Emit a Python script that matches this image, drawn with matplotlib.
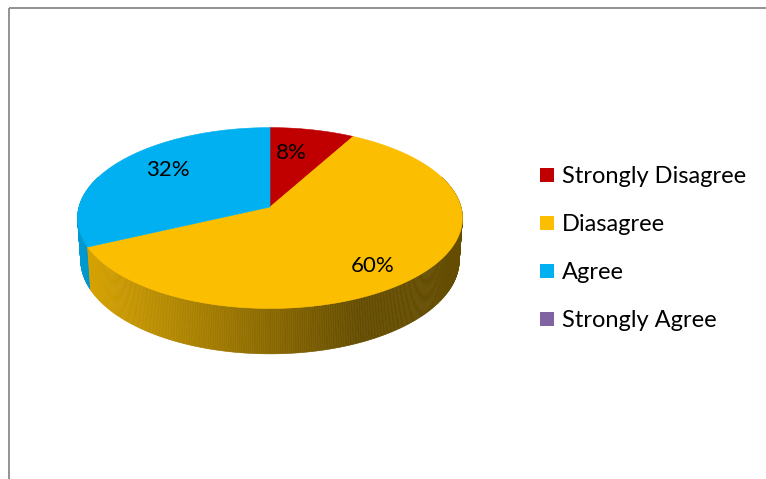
import numpy as np
import matplotlib
matplotlib.use("Agg")
import matplotlib.pyplot as plt
from matplotlib.patches import Polygon, Rectangle
from matplotlib.colors import to_rgb

# Survey responses (percent of respondents)
categories = ["Strongly Disagree", "Diasagree", "Agree", "Strongly Agree"]
shares = [8, 60, 32, 0]
colors = ["#C00000", "#FBBE00", "#00B0F0", "#8064A2"]

# Pixel positions for the percentage labels (None = no label)
label_xy = [(291, 153), (373, 266), (168, 170), None]

W, H = 766, 479
fig = plt.figure(figsize=(W / 100, H / 100), dpi=100)
ax = fig.add_axes([0, 0, 1, 1])
ax.set_xlim(0, W)
ax.set_ylim(H, 0)
ax.axis("off")

FONT = ["Lato", "DejaVu Sans"]
FS_LABEL = 16
FS_LEGEND = 17

# Perspective view of a flat cylinder (the 3-D pie)
CX, CY = 270, 207          # projected pie centre
S = 191                    # radius scale
ALPHA = np.radians(27.8)   # elevation of the view
DIST = 7.25                # camera distance (in radii)
THICK = 0.25               # pie thickness (in radii)


def project(theta_deg, r, w):
    t = np.radians(theta_deg)
    u = r * np.sin(t)
    v = r * np.cos(t)
    Y = v * np.sin(ALPHA) + w * np.cos(ALPHA)
    Z = DIST + v * np.cos(ALPHA) - w * np.sin(ALPHA)
    return CX + S * DIST * u / Z, CY - S * DIST * Y / Z


total = float(sum(shares))
bounds = np.concatenate([[0.0], np.cumsum(shares) / total * 360.0])


def slice_of(theta):
    return int(np.clip(np.searchsorted(bounds, theta, side="right") - 1, 0, len(shares) - 1))


def side_shade(px):
    return np.interp(px, [78, 360, 470], [0.87, 0.40, 0.40])


# side wall, back to front
step = 0.5
thetas = np.arange(0, 360, step)
quads = []
for t1 in thetas:
    t2 = t1 + step
    tm = t1 + step / 2
    if np.cos(np.radians(tm)) > 0.35:
        continue
    idx = slice_of(tm)
    if shares[idx] == 0:
        continue
    p1 = project(t1, 1, 0)
    p2 = project(t2, 1, 0)
    p3 = project(t2, 1, -THICK)
    p4 = project(t1, 1, -THICK)
    xm = (p1[0] + p2[0]) / 2
    f = side_shade(xm)
    c = tuple(np.array(to_rgb(colors[idx])) * f)
    quads.append((np.cos(np.radians(tm)), [p1, p2, p3, p4], c))

quads.sort(key=lambda q: -q[0])
for _, pts, c in quads:
    ax.add_patch(Polygon(pts, closed=True, facecolor=c, edgecolor=c, lw=0.4))

# top face
for i, share in enumerate(shares):
    if share == 0:
        continue
    a0, a1 = bounds[i], bounds[i + 1]
    arc = np.linspace(a0, a1, max(int((a1 - a0) / 0.5), 2))
    pts = [project(0, 0, 0)] + [project(a, 1, 0) for a in arc]
    ax.add_patch(Polygon(pts, closed=True, facecolor=colors[i],
                         edgecolor=colors[i], lw=0.4))

# percentage labels
for i, share in enumerate(shares):
    if label_xy[i] is None or share == 0:
        continue
    x, y = label_xy[i]
    ax.text(x, y, f"{share}%", ha="center", va="center", fontsize=FS_LABEL,
            family=FONT, color="black")

# legend
leg_x, leg_y0, leg_dy = 540, 183, 48
for i, name in enumerate(categories):
    yb = leg_y0 + i * leg_dy
    ax.add_patch(Rectangle((leg_x, yb - 15), 14, 14, facecolor=colors[i],
                           edgecolor="none"))
    ax.text(leg_x + 22, yb, name, ha="left", va="baseline", fontsize=FS_LEGEND,
            family=FONT, color="black")

# chart area frame
ax.plot([8.5, 8.5], [H + 5, 7.5], color="#8a8a8a", lw=1.3,
        solid_capstyle="butt", clip_on=False)
ax.plot([8.5, W + 5], [7.5, 7.5], color="#8a8a8a", lw=1.3,
        solid_capstyle="butt", clip_on=False)

fig.savefig("out.png", dpi=100)
